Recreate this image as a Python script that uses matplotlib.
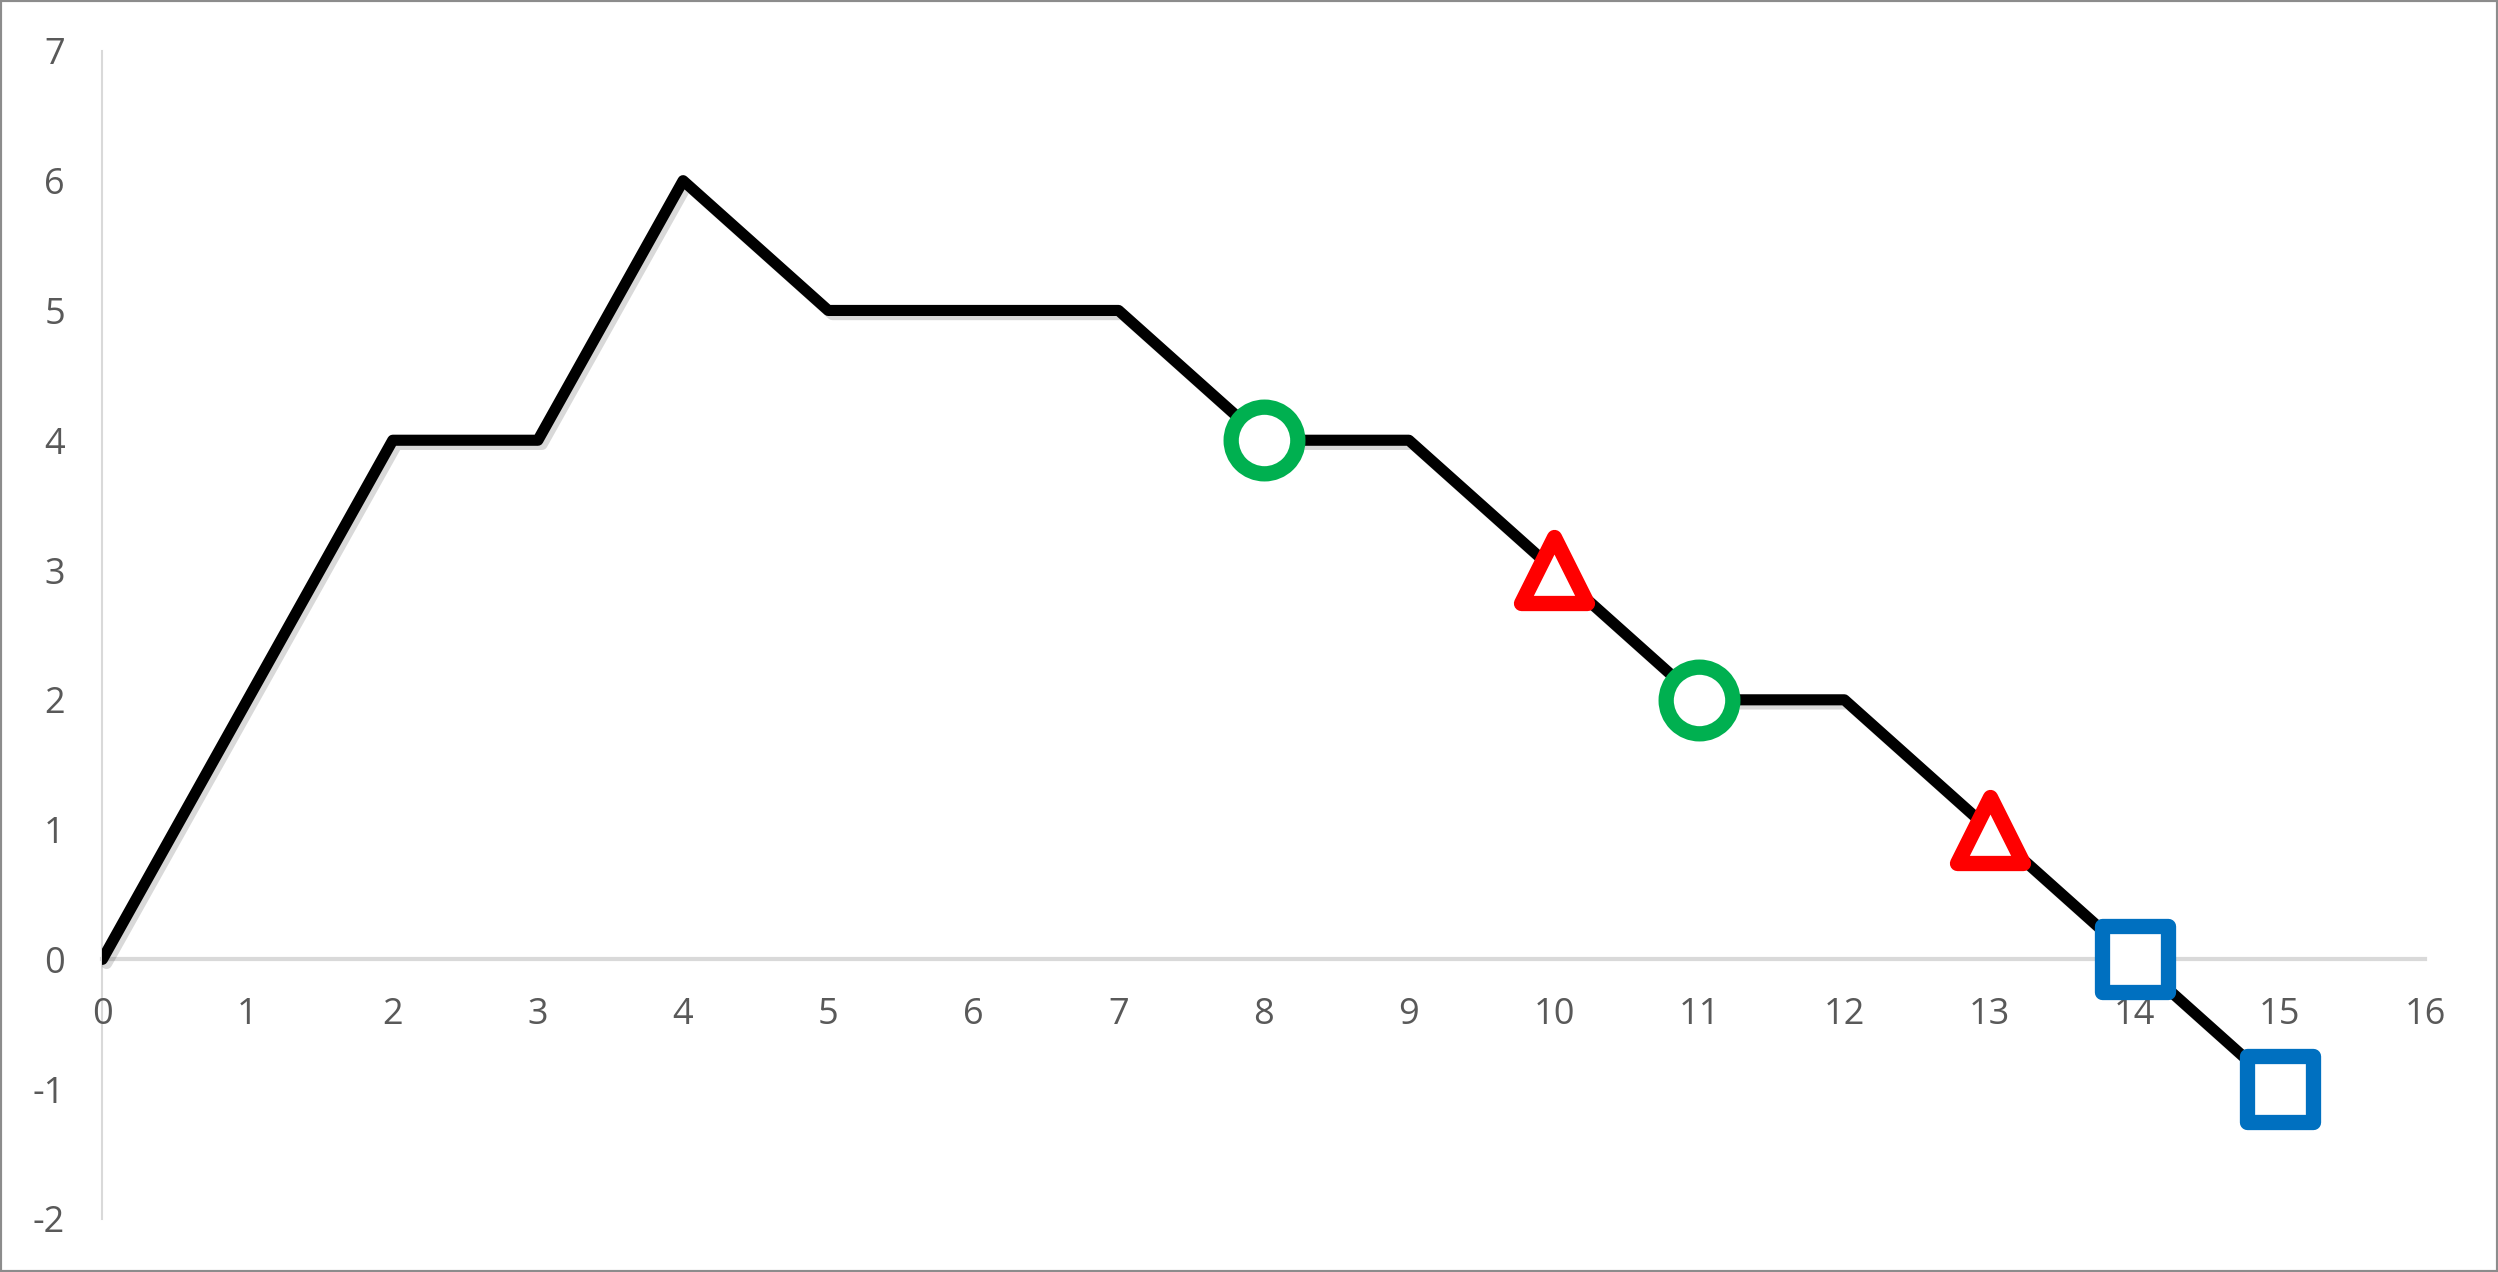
import matplotlib.pyplot as plt
import matplotlib.patheffects as pe
from matplotlib.markers import MarkerStyle
from matplotlib.patches import Rectangle

# data
x_vals = [0, 1, 2, 3, 4, 5, 6, 7, 8, 9, 10, 11, 12, 13, 14, 15]
y_vals = [0, 2, 4, 4, 6, 5, 5, 5, 4, 4, 3, 2, 2, 1, 0, -1]

circle_x = [8, 11]
circle_y = [4, 2]
triangle_x = [10, 13]
triangle_y = [3, 1]
square_x = [14, 15]
square_y = [0, -1]

x_ticks = list(range(0, 17))
y_ticks = list(range(-2, 8))

plt.rcParams['font.family'] = ['Open Sans', 'DejaVu Sans']
plt.rcParams['axes.unicode_minus'] = False

fig = plt.figure(figsize=(24.98, 12.72), dpi=100)
ax = fig.add_axes([0.041, 0.0417, 0.9298, 0.9183])

# main black line with a soft shadow
ax.plot(x_vals, y_vals, color='black', lw=8, solid_joinstyle='round', solid_capstyle='round',
        zorder=3,
        path_effects=[pe.SimpleLineShadow(offset=(3, -3), shadow_color='black', alpha=0.15),
                      pe.Normal()])

ms = 48
mew = 11
ax.plot(circle_x, circle_y, ls='none', marker='o', ms=ms, mew=mew, mec='#00B050', mfc='white',
        zorder=4, clip_on=False)
ax.plot(triangle_x, triangle_y, ls='none', marker=MarkerStyle('^', joinstyle='round'), ms=ms,
        mew=mew, mec='#FF0000', mfc='white', zorder=4, clip_on=False)
ax.plot(square_x, square_y, ls='none', marker=MarkerStyle('s', joinstyle='round'), ms=ms,
        mew=mew, mec='#0070C0', mfc='white', zorder=4, clip_on=False)

ax.set_xlim(0, 16)
ax.set_ylim(-2, 7)
ax.set_xticks(x_ticks)
ax.set_yticks(y_ticks)

ax.spines['top'].set_visible(False)
ax.spines['right'].set_visible(False)
ax.spines['bottom'].set_position(('data', 0))
ax.spines['bottom'].set_color('#D9D9D9')
ax.spines['bottom'].set_linewidth(3)
ax.spines['left'].set_color('#D9D9D9')
ax.spines['left'].set_linewidth(1.5)
ax.spines['bottom'].set_zorder(1)
ax.spines['left'].set_zorder(1)

ax.tick_params(axis='x', length=0, pad=27, labelsize=26, labelcolor='#595959')
ax.tick_params(axis='y', length=0, pad=27, labelsize=26, labelcolor='#595959')

# outer frame
fig.patches.append(Rectangle((0, 0), 1, 1, transform=fig.transFigure, fill=False,
                             lw=3, edgecolor='#8C8C8C'))

plt.savefig('out.png', dpi=100)
